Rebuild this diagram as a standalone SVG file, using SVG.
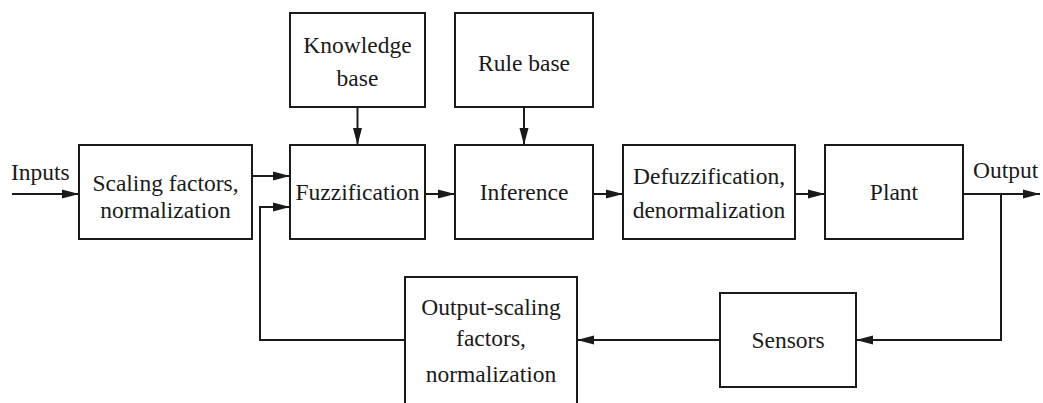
<svg xmlns="http://www.w3.org/2000/svg" width="1043" height="403" viewBox="0 0 1043 403">
<style>
.box{fill:#fff;stroke:#1a1a1a;stroke-width:2}
text{font-family:'Liberation Serif',serif;font-size:23.5px;fill:#1a1a1a}
.t{text-anchor:middle}
.c{fill:none;stroke:#1a1a1a;stroke-width:2}
</style>
<defs>
<marker id="ah" markerUnits="userSpaceOnUse" markerWidth="18" markerHeight="12" refX="17" refY="6" orient="auto">
<path d="M0,1.5 L17,6 L0,10.5 z" fill="#1a1a1a"/>
</marker>
</defs>
<rect width="1043" height="403" fill="#fff"/>
<g id="knowledge-base"><rect class="box" x="290" y="13" width="135" height="94"/><text class="t" x="357.5" y="53" font-family="Liberation Serif, serif">Knowledge</text><text class="t" x="357.5" y="86" font-family="Liberation Serif, serif">base</text></g>
<g id="rule-base"><rect class="box" x="455" y="13" width="138" height="94"/><text class="t" x="524" y="71">Rule base</text></g>
<g id="scaling"><rect class="box" x="79" y="145" width="173" height="94"/><text class="t" x="165.5" y="191">Scaling factors,</text><text class="t" x="165.5" y="218">normalization</text></g>
<g id="fuzzification"><rect class="box" x="290" y="145" width="135" height="94"/><text class="t" x="357.5" y="200">Fuzzification</text></g>
<g id="inference"><rect class="box" x="455" y="145" width="138" height="94"/><text class="t" x="524" y="200">Inference</text></g>
<g id="defuzzification"><rect class="box" x="623" y="145" width="172" height="94"/><text class="t" x="709" y="184">Defuzzification,</text><text class="t" x="709" y="218">denormalization</text></g>
<g id="plant"><rect class="box" x="825" y="145" width="138" height="94"/><text class="t" x="894" y="200">Plant</text></g>
<g id="output-scaling"><rect class="box" x="405" y="277" width="172" height="140"/><text class="t" x="491" y="315">Output-scaling</text><text class="t" x="491" y="346">factors,</text><text class="t" x="491" y="382">normalization</text></g>
<g id="sensors"><rect class="box" x="720" y="293" width="136" height="94"/><text class="t" x="788" y="348">Sensors</text></g>
<g id="labels"><text x="11" y="180">Inputs</text><text x="973" y="178">Output</text></g>
<g id="connectors">
<line class="c" x1="12" y1="194" x2="79" y2="194" marker-end="url(#ah)"/>
<line class="c" x1="252" y1="176" x2="290" y2="176" marker-end="url(#ah)"/>
<line class="c" x1="357.5" y1="107" x2="357.5" y2="145" marker-end="url(#ah)"/>
<line class="c" x1="524" y1="107" x2="524" y2="145" marker-end="url(#ah)"/>
<line class="c" x1="425" y1="194" x2="455" y2="194" marker-end="url(#ah)"/>
<line class="c" x1="593" y1="194" x2="623" y2="194" marker-end="url(#ah)"/>
<line class="c" x1="795" y1="194" x2="825" y2="194" marker-end="url(#ah)"/>
<line class="c" x1="963" y1="194" x2="1040" y2="194" marker-end="url(#ah)"/>
<polyline class="c" points="1001,194 1001,340 856,340" marker-end="url(#ah)"/>
<line class="c" x1="720" y1="340" x2="577" y2="340" marker-end="url(#ah)"/>
<polyline class="c" points="405,340 260,340 260,207 290,207" marker-end="url(#ah)"/>
</g>
</svg>
